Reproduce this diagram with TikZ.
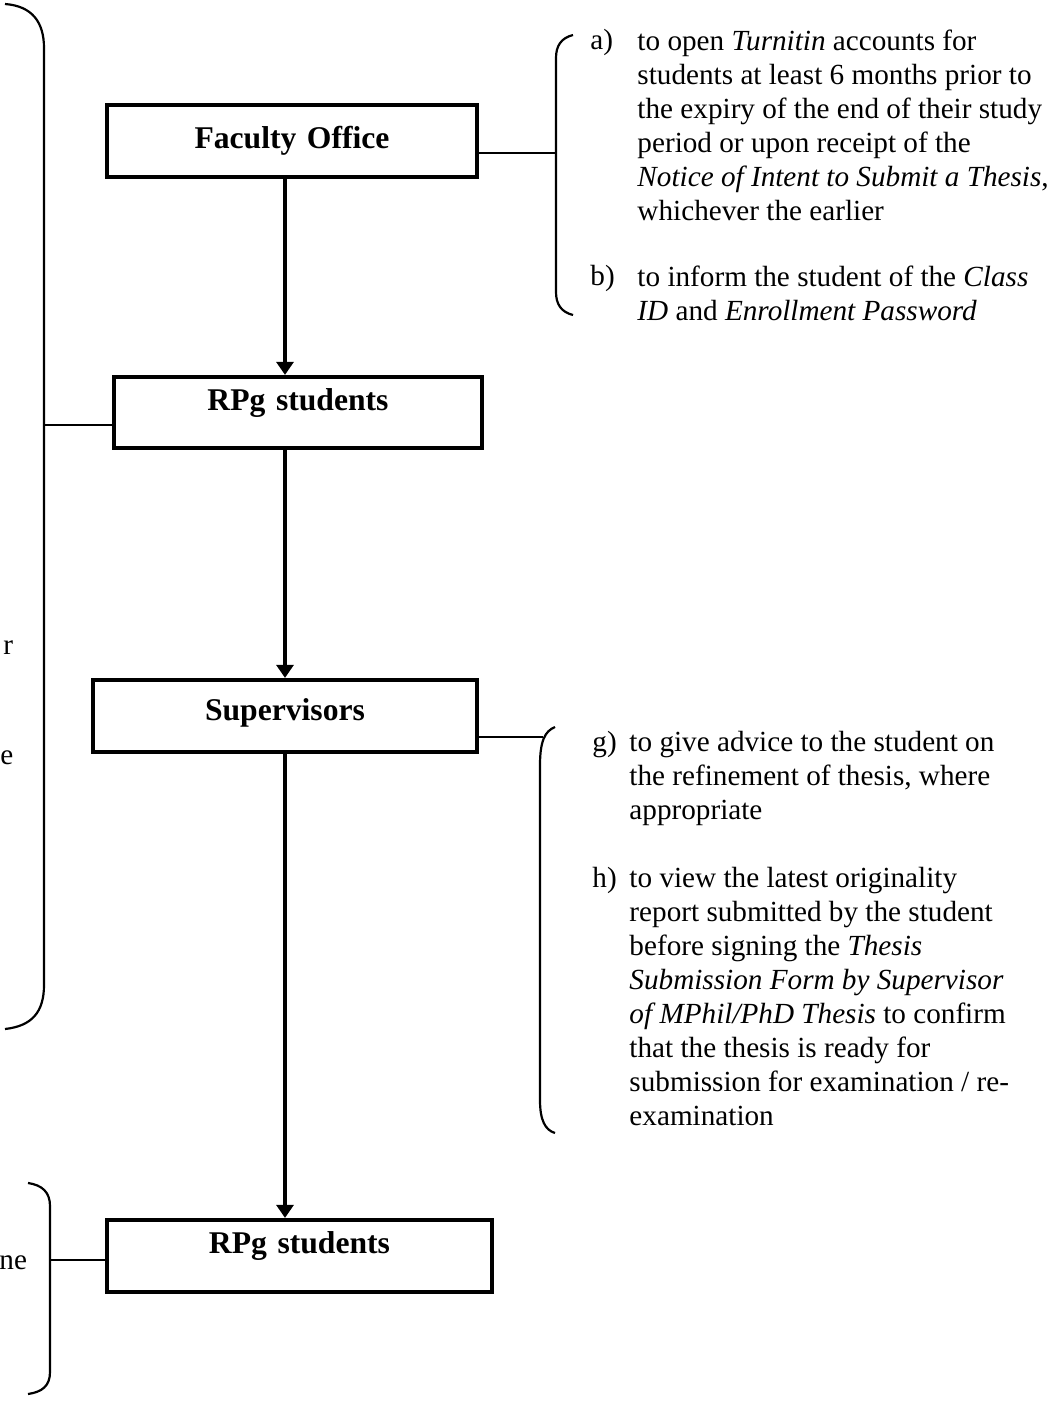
\documentclass[tikz,border=0pt]{standalone}
\usepackage{fontspec}
\setmainfont{Liberation Serif}
\usetikzlibrary{arrows.meta}

\newlength\pu
\setlength\pu{0.411pt}
\newcommand\dutyfont{\fontsize{12}{13.97}\selectfont}
\newcommand\stagefont{\fontsize{13}{15}\selectfont\bfseries}

\tikzset{
  stage/.style={draw, line width=1.7pt, inner sep=0pt, align=center, font=\stagefont},
  flow/.style={-{Triangle[length=5.4pt,width=7pt]}, line width=1.5pt},
  link/.style={line width=0.9pt},
  brace/.style={line width=0.9pt},
  duty/.style={anchor=north west, align=left, inner sep=0pt, font=\dutyfont},
  dutytag/.style={anchor=base west, inner sep=0pt, font=\dutyfont}
}

\begin{document}
\begin{tikzpicture}[x=1\pu, y=-1\pu]
\useasboundingbox (0,0) rectangle (1051,1410);

\node [stage, text width=370\pu, text height=43\pu, text depth=29\pu] (fo)   at (292,141)    {Faculty Office};
\node [stage, text width=368\pu, text height=33\pu, text depth=38\pu] (rpga) at (298,412.5)  {RPg students};
\node [stage, text width=384\pu, text height=40\pu, text depth=32\pu] (sup)  at (285,716)    {Supervisors};
\node [stage, text width=385\pu, text height=33\pu, text depth=39\pu] (rpgb) at (299.5,1256) {RPg students};

\draw [flow] (fo.south -| sup)   -- (rpga.north -| sup);
\draw [flow] (rpga.south -| sup) -- (sup.north);
\draw [flow] (sup.south)         -- (rpgb.north -| sup);

% braces
\draw [brace] (573,35) .. controls (561,38) and (556,46) .. (556,58)
    -- (556,292) .. controls (556,304) and (561,312) .. (573,315);
\draw [brace] (555,727) .. controls (545,731) and (540,741) .. (540,765)
    -- (540,1100) .. controls (540,1120) and (545,1130) .. (555,1133);
\draw [brace] (5,4) .. controls (32,6) and (44,22) .. (44,48)
    -- (44,985) .. controls (44,1012) and (32,1026) .. (5,1029);
\draw [brace] (28,1183) .. controls (42,1185) and (50,1192) .. (50,1206)
    -- (50,1372) .. controls (50,1386) and (42,1392) .. (28,1394);

\coordinate (fotip)   at (556,153);
\coordinate (suptip)  at (543,737);
\coordinate (rpgatip) at (44,425);
\coordinate (rpgbtip) at (50,1260);
\draw [link] (fo.east |- fotip)   -- (fotip);
\draw [link] (sup.east |- suptip) -- (suptip);
\draw [link] (rpgatip) -- (rpga.west |- rpgatip);
\draw [link] (rpgbtip) -- (rpgb.west |- rpgbtip);

% duties
\node [dutytag] (taga) at (590,49.5) {a)};
\node [duty]    (duta) at (637,29.5) {to open \textit{Turnitin} accounts for\\
  students at least 6 months prior to\\
  the expiry of the end of their study\\
  period or upon receipt of the\\
  \textit{Notice of Intent to Submit a Thesis},\\
  whichever the earlier};
\node [dutytag] (tagb) at (590,285) {b)};
\node [duty]    (dutb) at (637,265) {to inform the student of the \textit{Class}\\
  \textit{ID} and \textit{Enrollment Password}};
\node [dutytag] (tagg) at (592,751) {g)};
\node [duty]    (dutg) at (629,731) {to give advice to the student on\\
  the refinement of thesis, where\\
  appropriate};
\node [dutytag] (tagh) at (592,887) {h)};
\node [duty]    (duth) at (629,867) {to view the latest originality\\
  report submitted by the student\\
  before signing the \textit{Thesis}\\
  \textit{Submission Form by Supervisor}\\
  \textit{of MPhil/PhD Thesis} to confirm\\
  that the thesis is ready for\\
  submission for examination / re-\\
  examination};

% cut-off text at the left edge
\node [dutytag] (cutr)  at (3,654.5)  {r};
\node [dutytag] (cute)  at (0,764.5)  {e};
\node [dutytag] (cutne) at (-1,1269.5) {ne};
\end{tikzpicture}
\end{document}
